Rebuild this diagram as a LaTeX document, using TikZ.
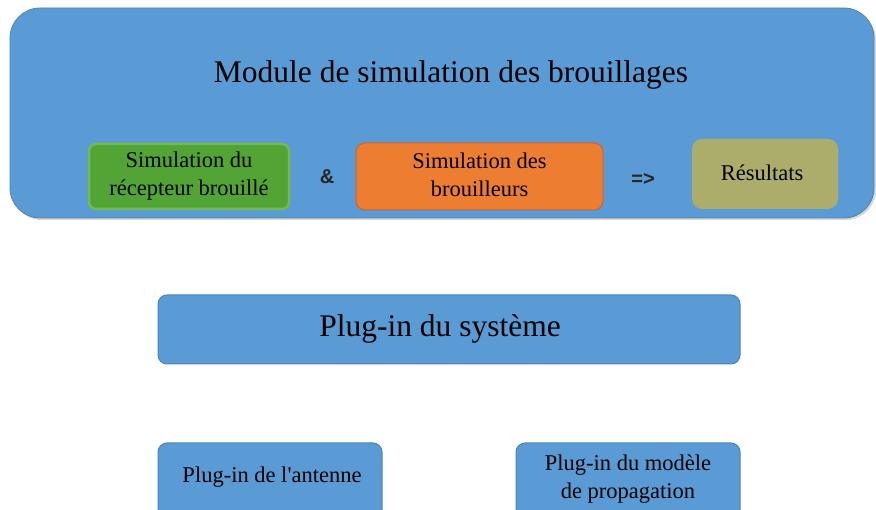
\documentclass[tikz,border=0pt]{standalone}
\usepackage{fontspec}
\setmainfont{Liberation Serif}[Ligatures=TeXOff]
\newfontfamily\symfont{Liberation Sans}
\definecolor{boxblue}{HTML}{5B9BD5}
\definecolor{boxblueline}{HTML}{4A84BC}
\definecolor{greenfill}{HTML}{52A535}
\definecolor{greenline}{HTML}{72BA55}
\definecolor{orangefill}{HTML}{ED7D31}
\definecolor{orangeline}{HTML}{C9652A}
\definecolor{khaki}{HTML}{ADAD6B}
\tikzset{
  bluebox/.style={draw=boxblueline, line width=1pt, fill=boxblue, rounded corners=9pt},
  bigtext/.style={font=\fontsize{31.5}{36}\selectfont, text=black},
  smalltext/.style={font=\fontsize{22.5}{28}\selectfont, text=black, align=center},
  optext/.style={font=\symfont\bfseries\fontsize{20}{22}\selectfont, text=black!85}
}
\begin{document}
\begin{tikzpicture}[x=1pt,y=-1pt]
\useasboundingbox (0,0) rectangle (876,510);
\clip (0,0) rectangle (876,510);
\fill[white] (0,0) rectangle (876,510);
% big module box with faint shadow
\fill[black!15, rounded corners=30pt] (12,10) rectangle (876,220);
\path[draw=boxblueline!80!gray, line width=0.8pt, fill=boxblue, rounded corners=30pt] (10,8) rectangle (874,218);
\node[bigtext] (title) at (451,75) {Module de simulation des brouillages};
% inner boxes
\path[draw=greenline, line width=2.5pt, fill=greenfill, rounded corners=7pt] (89,144) rectangle (289,209);
\node[smalltext] (green) at (189,176) {Simulation du\\récepteur brouillé};
\node[optext] (amp) at (327,177) {\&};
\path[draw=orangeline, line width=1pt, fill=orangefill, rounded corners=9pt] (356,143) rectangle (603,210);
\node[smalltext] (orange) at (479.5,175) {Simulation des\\brouilleurs};
\node[optext] (impl) at (643,180) {=>};
\path[fill=khaki, rounded corners=10pt] (692,139) rectangle (838,209);
\node[smalltext] (res) at (762,173) {Résultats};
% plug-in boxes
\path[bluebox] (158,295) rectangle (740,364);
\node[bigtext] (sys) at (440,329) {Plug-in du système};
\path[bluebox] (158,443) rectangle (382,530);
\node[smalltext] (ant) at (272,477) {Plug-in de l'antenne};
\path[bluebox] (516,443) rectangle (740,530);
\node[smalltext] (prop) at (628,479) {Plug-in du modèle\\de propagation};
\end{tikzpicture}
\end{document}
